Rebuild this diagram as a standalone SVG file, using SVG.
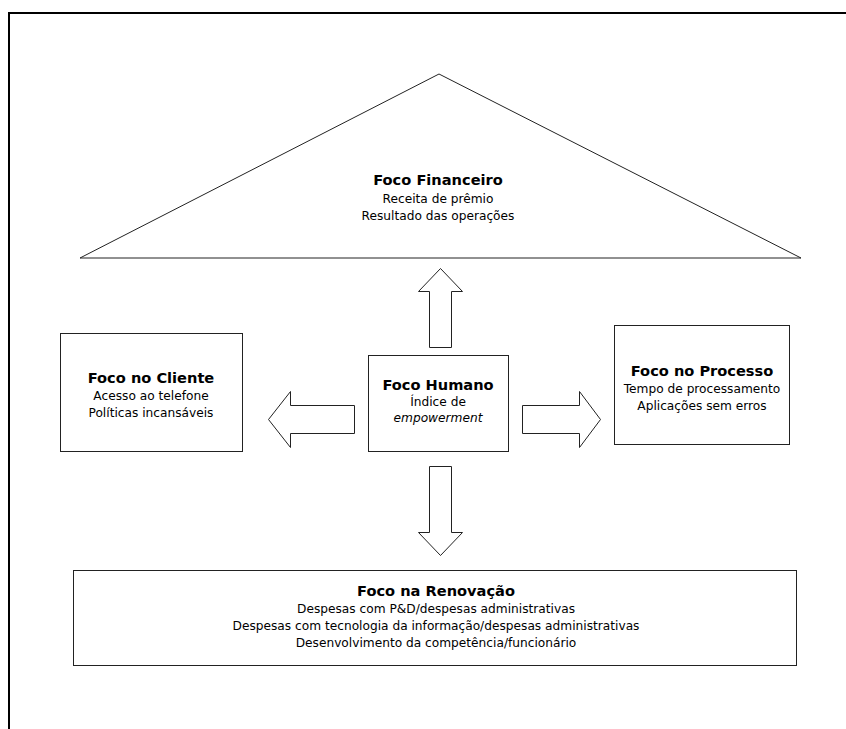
<svg xmlns="http://www.w3.org/2000/svg" width="846" height="729" viewBox="0 0 846 729">
  <style>
    .frame { fill: none; stroke: #000; stroke-width: 2; }
    .box { fill: #fff; stroke: #222; stroke-width: 1; }
    .arrow { fill: #fff; stroke: #222; stroke-width: 1; stroke-linejoin: miter; }
    text { font-family: "DejaVu Sans", Verdana, sans-serif; fill: #000; text-anchor: middle; }
    .t { font-size: 12.2px; }
    .h { font-size: 14.6px; font-weight: bold; }
    .i { font-style: italic; }
  </style>
  <rect width="846" height="729" fill="#fff"/>

  <!-- page frame -->
  <path class="frame" d="M9,729 V13 H846"/>

  <!-- financial perspective (roof) -->
  <g id="financeiro">
    <polygon class="box" points="439,74 801,258 80,258"/>
    <text class="h" x="438" y="185">Foco Financeiro</text>
    <text class="t" x="438" y="202.5">Receita de prêmio</text>
    <text class="t" x="438" y="220">Resultado das operações</text>
  </g>

  <g id="cliente">
    <rect class="box" x="60.5" y="333.5" width="182" height="118"/>
    <text class="h" x="151" y="383">Foco no Cliente</text>
    <text class="t" x="151" y="400">Acesso ao telefone</text>
    <text class="t" x="151" y="417">Políticas incansáveis</text>
  </g>

  <g id="humano">
    <rect class="box" x="368.5" y="355.5" width="140" height="96"/>
    <text class="h" x="438" y="390">Foco Humano</text>
    <text class="t" x="438" y="406">Índice de</text>
    <text class="t i" x="438" y="422">empowerment</text>
  </g>

  <g id="processo">
    <rect class="box" x="614.5" y="325.5" width="175" height="119"/>
    <text class="h" x="702" y="376">Foco no Processo</text>
    <text class="t" x="702" y="393">Tempo de processamento</text>
    <text class="t" x="702" y="410">Aplicações sem erros</text>
  </g>

  <g id="renovacao">
    <rect class="box" x="73.5" y="570.5" width="723" height="95"/>
    <text class="h" x="436" y="596">Foco na Renovação</text>
    <text class="t" x="436" y="613">Despesas com P&amp;D/despesas administrativas</text>
    <text class="t" x="436" y="630">Despesas com tecnologia da informação/despesas administrativas</text>
    <text class="t" x="436" y="647">Desenvolvimento da competência/funcionário</text>
  </g>

  <!-- block arrows from the human focus outwards -->
  <g id="connectors">
    <polygon class="arrow" points="429.5,347.5 429.5,291.5 418.5,291.5 440.5,268.5 462.5,291.5 451.5,291.5 451.5,347.5"/>
    <polygon class="arrow" points="429.5,466.5 451.5,466.5 451.5,532.5 462.5,532.5 440.5,555.5 418.5,532.5 429.5,532.5"/>
    <polygon class="arrow" points="354.5,405.5 290.5,405.5 290.5,391.5 268.5,419.5 290.5,447.5 290.5,433.5 354.5,433.5"/>
    <polygon class="arrow" points="522.5,405.5 579.5,405.5 579.5,391.5 600.5,419.5 579.5,447.5 579.5,433.5 522.5,433.5"/>
  </g>
</svg>
